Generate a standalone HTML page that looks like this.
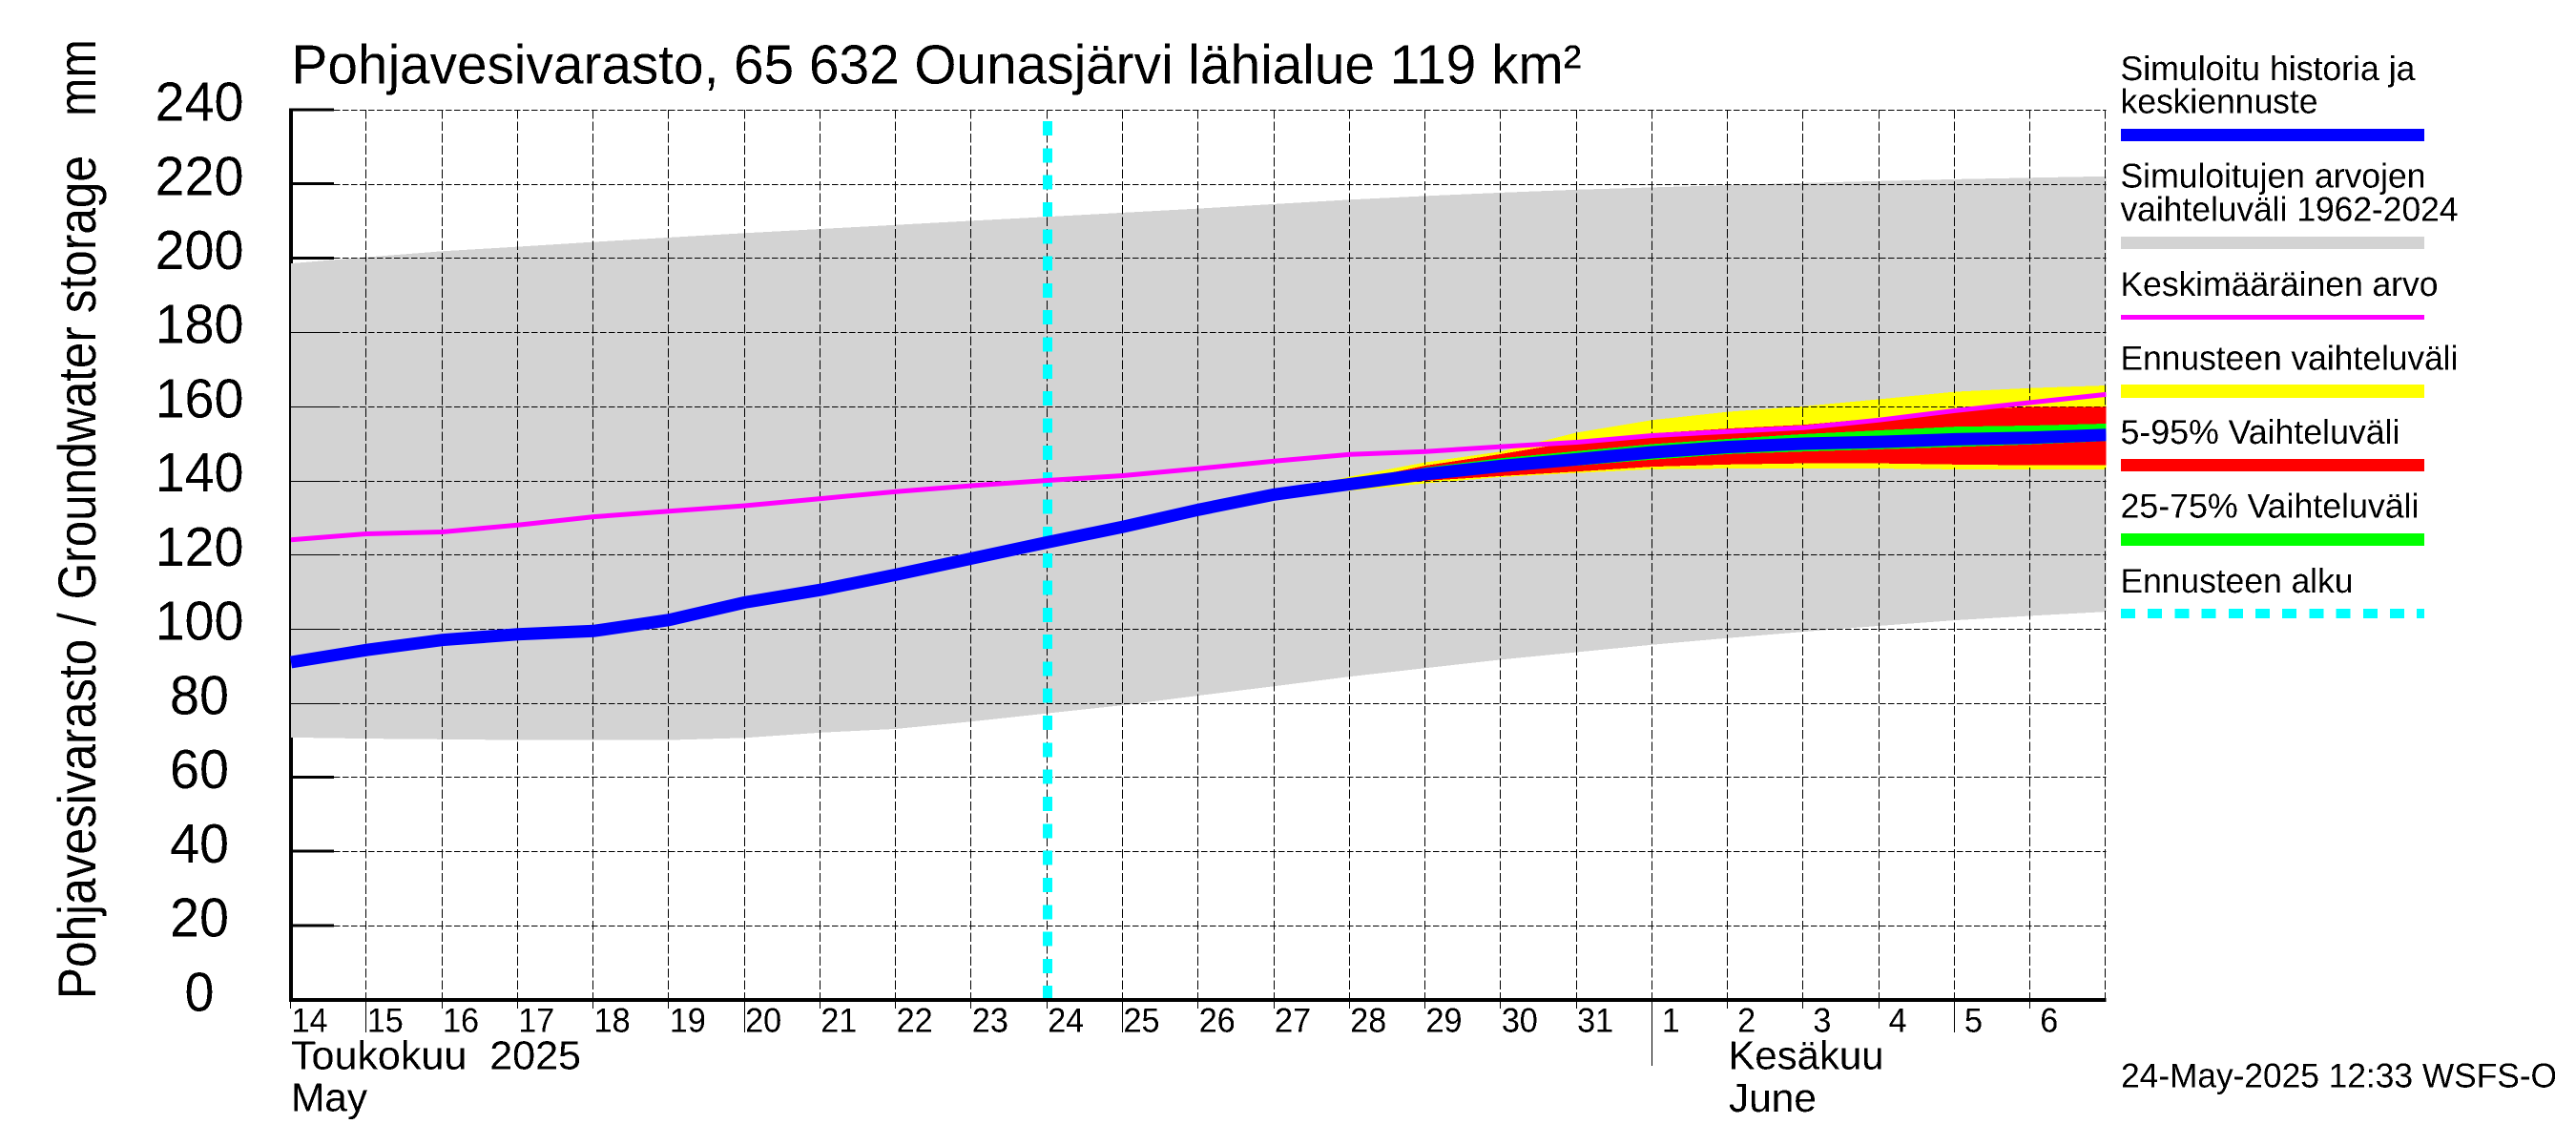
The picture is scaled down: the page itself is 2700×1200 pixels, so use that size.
<!DOCTYPE html>
<html lang="fi">
<head>
<meta charset="utf-8">
<title>Pohjavesivarasto, 65 632 Ounasjärvi lähialue 119 km²</title>
<style>
html,body{margin:0;padding:0;background:#fff;}
svg{display:block;}
text{font-family:"Liberation Sans",sans-serif;fill:#000;text-rendering:geometricPrecision;}
</style>
</head>
<body>
<svg id="chart" xmlns="http://www.w3.org/2000/svg" width="2700" height="1200" viewBox="0 0 2700 1200">
  <defs>
    <clipPath id="plot-clip"><rect x="304" y="100" width="1903.5" height="960"/></clipPath>
    <filter id="crisp" filterUnits="userSpaceOnUse" x="0" y="0" width="2700" height="1200" color-interpolation-filters="sRGB">
      <feComponentTransfer><feFuncA type="discrete" tableValues="0 1"/></feComponentTransfer>
    </filter>
  </defs>
  <rect x="0" y="0" width="2700" height="1200" fill="#fff"/>
  <g id="layer-axis" shape-rendering="crispEdges"></g>
  <g id="layer-gray" shape-rendering="crispEdges"></g>
  <g id="layer-yellow" shape-rendering="crispEdges"></g>
  <g id="layer-grid" shape-rendering="crispEdges"></g>
  <g id="layer-bands" shape-rendering="crispEdges"></g>
  <g id="layer-cyan" shape-rendering="crispEdges"></g>
  <g id="layer-lines" clip-path="url(#plot-clip)"></g>
  <g id="layer-bottom" shape-rendering="crispEdges"></g>

  <g id="layer-text" filter="url(#crisp)">
    <text x="305.5" y="87.3" font-size="58" textLength="1352" lengthAdjust="spacingAndGlyphs">Pohjavesivarasto, 65 632 Ounasjärvi lähialue 119 km²</text>
    <text transform="translate(100,1047) rotate(-90)" font-size="56" textLength="884" lengthAdjust="spacingAndGlyphs">Pohjavesivarasto / Groundwater storage</text>
    <text transform="translate(100,122) rotate(-90)" font-size="56" textLength="81" lengthAdjust="spacingAndGlyphs">mm</text>

    <text x="305" y="1120.5" font-size="42" textLength="304" lengthAdjust="spacingAndGlyphs" xml:space="preserve">Toukokuu  2025</text>
    <text x="305" y="1164.5" font-size="42" textLength="80" lengthAdjust="spacingAndGlyphs">May</text>
    <text x="1811.5" y="1120.7" font-size="42" textLength="163" lengthAdjust="spacingAndGlyphs">Kesäkuu</text>
    <text x="1812" y="1165" font-size="42" textLength="92" lengthAdjust="spacingAndGlyphs">June</text>
    <text x="2223" y="1139.3" font-size="36" textLength="457" lengthAdjust="spacingAndGlyphs">24-May-2025 12:33 WSFS-O</text>

    <text x="2222.5" y="84" font-size="36" textLength="309" lengthAdjust="spacingAndGlyphs">Simuloitu historia ja</text>
    <text x="2222.5" y="118.3" font-size="36" textLength="207" lengthAdjust="spacingAndGlyphs">keskiennuste</text>
    <text x="2222.5" y="196.7" font-size="36" textLength="320" lengthAdjust="spacingAndGlyphs">Simuloitujen arvojen</text>
    <text x="2222.5" y="231.7" font-size="36" textLength="354" lengthAdjust="spacingAndGlyphs">vaihteluväli 1962-2024</text>
    <text x="2222.5" y="310" font-size="36" textLength="333" lengthAdjust="spacingAndGlyphs">Keskimääräinen arvo</text>
    <text x="2222.5" y="387.7" font-size="36" textLength="354" lengthAdjust="spacingAndGlyphs">Ennusteen vaihteluväli</text>
    <text x="2222.5" y="465" font-size="36" textLength="293" lengthAdjust="spacingAndGlyphs">5-95% Vaihteluväli</text>
    <text x="2222.5" y="542.7" font-size="36" textLength="313" lengthAdjust="spacingAndGlyphs">25-75% Vaihteluväli</text>
    <text x="2222.5" y="621" font-size="36" textLength="244" lengthAdjust="spacingAndGlyphs">Ennusteen alku</text>
  </g>

  <g shape-rendering="crispEdges">
    <rect x="2223" y="135" width="318" height="13" fill="#0000ff"/>
    <rect x="2223" y="248" width="318" height="13" fill="#d3d3d3"/>
    <rect x="2223" y="330" width="318" height="5" fill="#ff00ff"/>
    <rect x="2223" y="403" width="318" height="14" fill="#ffff00"/>
    <rect x="2223" y="481" width="318" height="13" fill="#ff0000"/>
    <rect x="2223" y="559" width="318" height="13" fill="#00ff00"/>
    <line x1="2223" y1="643" x2="2541" y2="643" stroke="#00ffff" stroke-width="10" stroke-dasharray="15 13.2"/>
  </g>
</svg>

<script>
// ---- chart data ----
const dayLabels = ['14','15','16','17','18','19','20','21','22','23','24','25','26','27','28','29','30','31','1','2','3','4','5','6'];
const yTicks = [0,20,40,60,80,100,120,140,160,180,200,220,240];
const longTickIndexes = [1,6,11,22];
const monthTickIndex = 18;
const forecastStartIndex = 10;
const forecastFirstIndex = 13;

const simHigh = [198.5,200.2,201.8,203,204.3,205.5,206.7,207.8,208.9,210,211.1,212.2,213.3,214.5,215.7,216.7,217.6,218.4,219,219.6,220.2,220.7,221.2,221.6,222];
const simLow = [70.7,70.4,70.2,70,70,70,70.6,72,73,75,77.2,79.4,82,84.5,87.1,89.4,91.7,93.7,95.7,97.5,99.2,100.8,102.3,103.5,104.6];
const meanValues = [124,125.6,126.1,128,130.2,131.7,133.2,135.1,137,138.6,140,141.3,143.2,145.2,147,147.8,149.1,150.3,152.1,153.2,154.2,156.3,158.8,161,163.2];
const simulatedValues = [91,94.3,97,98.5,99.4,102.4,107.1,110.5,114.6,118.95,123.3,127.5,132.1,136.2,139,141.7,143.9,145.7,147.6,149,149.9,150.4,151.1,151.5,152.3];

const forecastHigh = [136.5,141,144.9,147.8,152.9,156.3,158.5,160,161.9,163.9,164.9,165.6];
const forecastLow = [136,137.2,139.2,140.9,142,143,143.2,143.2,143.2,143,143,143];
const p95Values = [136.4,139.8,144,147.1,150.5,152.7,154,155,156.8,159.1,159.8,159.8];
const p5Values = [136.1,138,139.9,141.2,142.4,143.7,144.3,144.6,144.6,144.3,144.1,144.1];
const p75Values = [136.3,139.4,143.5,146,147.9,149.8,151.2,152.5,153.5,154.5,154.8,155.3];
const p25Values = [136.2,138.6,141,142.4,144,145.6,147.1,147.8,148.4,149,149.7,150.6];

// ---- axis functions ----
const NS = 'http://www.w3.org/2000/svg';
const xOf = i => 305 + 79.27 * i;
const yOf = v => 1047.7 - 3.887 * v;
const PLOT_RIGHT = xOf(dayLabels.length);
const PLOT_TOP = yOf(240);
const PLOT_BOTTOM = yOf(0);

function make(tag, attrs, parent) {
  const node = document.createElementNS(NS, tag);
  for (const k in attrs) node.setAttribute(k, attrs[k]);
  parent.appendChild(node);
  return node;
}
function bandPoints(hi, lo, firstIndex) {
  const pts = [];
  hi.forEach((v, i) => pts.push(xOf(firstIndex + i).toFixed(1) + ',' + yOf(v).toFixed(1)));
  for (let i = lo.length - 1; i >= 0; i--) pts.push(xOf(firstIndex + i).toFixed(1) + ',' + yOf(lo[i]).toFixed(1));
  return pts.join(' ');
}
function linePoints(values) {
  return values.map((v, i) => xOf(i).toFixed(1) + ',' + yOf(v).toFixed(1)).join(' ');
}

const layerAxis = document.getElementById('layer-axis');
const layerGray = document.getElementById('layer-gray');
const layerYellow = document.getElementById('layer-yellow');
const layerGrid = document.getElementById('layer-grid');
const layerBands = document.getElementById('layer-bands');
const layerCyan = document.getElementById('layer-cyan');
const layerLines = document.getElementById('layer-lines');
const layerBottom = document.getElementById('layer-bottom');
const layerText = document.getElementById('layer-text');

// thick y axis and thick ticks (covered later by the gray range)
const yAxisLine = make('rect', {x: 303, y: PLOT_TOP - 1.5, width: 4, height: PLOT_BOTTOM - PLOT_TOP + 3, fill: '#000'}, layerAxis);


yTicks.forEach(v => {
  const tick = make('rect', {x: 303, y: yOf(v) - 1.5, width: 47, height: 3, fill: '#000'}, layerAxis);
  
  
});

// gray simulated range
const grayBand = make('polygon', {points: bandPoints(simHigh, simLow, 0), fill: '#d3d3d3'}, layerGray);



// yellow forecast range sits below the grid
const yellowBand = make('polygon', {points: bandPoints(forecastHigh, forecastLow, forecastFirstIndex), fill: '#ffff00'}, layerYellow);



// horizontal grid and thin tick stubs
yTicks.forEach(v => {
  const y = Math.round(yOf(v)) + 0.5;
  const stub = make('line', {x1: 304, y1: y, x2: 350, y2: y, stroke: '#000', 'stroke-width': 1}, layerGrid);
  
  
  const grid = make('line', {x1: 350, y1: y, x2: PLOT_RIGHT, y2: y, stroke: '#000', 'stroke-width': 1, 'stroke-dasharray': '6.5 2.5'}, layerGrid);
  
  
});

// vertical grid, including the closing right edge
for (let i = 0; i <= dayLabels.length; i++) {
  const x = Math.round(xOf(i)) - 0.5;
  const grid = make('line', {x1: x, y1: PLOT_TOP, x2: x, y2: PLOT_BOTTOM, stroke: '#000', 'stroke-width': 1, 'stroke-dasharray': '9.5 3'}, layerGrid);
  
  
}

// red and green percentile bands over the grid
const redBand = make('polygon', {points: bandPoints(p95Values, p5Values, forecastFirstIndex), fill: '#ff0000'}, layerBands);


const greenBand = make('polygon', {points: bandPoints(p75Values, p25Values, forecastFirstIndex), fill: '#00ff00'}, layerBands);



// forecast start marker
const cyanLine = make('line', {x1: xOf(forecastStartIndex) + 0.5, y1: 127, x2: xOf(forecastStartIndex) + 0.5, y2: PLOT_BOTTOM, stroke: '#00ffff', 'stroke-width': 10, 'stroke-dasharray': '15 13.32'}, layerCyan);



// mean and simulated lines
const meanLine = make('polyline', {points: linePoints(meanValues), fill: 'none', stroke: '#ff00ff', 'stroke-width': 5}, layerLines);


const simLine = make('polyline', {points: linePoints(simulatedValues), fill: 'none', stroke: '#0000ff', 'stroke-width': 13}, layerLines);



// bottom axis and ticks
const xAxisLine = make('rect', {x: 303, y: PLOT_BOTTOM - 1.7, width: PLOT_RIGHT - 303, height: 4, fill: '#000'}, layerBottom);


dayLabels.forEach((label, i) => {
  let end = 1057;
  if (longTickIndexes.includes(i)) end = 1082;
  if (i === monthTickIndex) end = 1117;
  const x = Math.round(xOf(i)) - 0.5;
  const tick = make('line', {x1: x, y1: PLOT_BOTTOM, x2: x, y2: end, stroke: '#000', 'stroke-width': 1}, layerBottom);
  
  
});

// tick labels
yTicks.forEach(v => {
  const s = String(v);
  const t = make('text', {x: 209, y: yOf(v) + 11.7, 'font-size': 58, 'text-anchor': 'middle', textLength: s.length * 31, lengthAdjust: 'spacingAndGlyphs'}, layerText);
  
  
  t.textContent = s;
});
dayLabels.forEach((label, i) => {
  const t = make('text', {x: xOf(i) + 19.5, y: 1081.5, 'font-size': 36, 'text-anchor': 'middle', textLength: label.length * 19, lengthAdjust: 'spacingAndGlyphs'}, layerText);
  
  
  t.textContent = label;
});
</script>
</body>
</html>
